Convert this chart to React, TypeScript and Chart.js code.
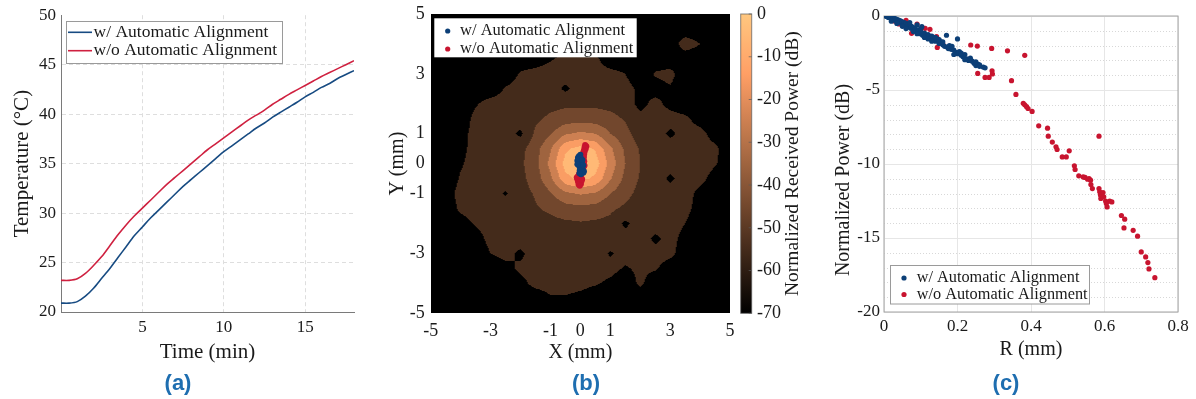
import React, { useEffect, useRef } from "react";
import { Chart, registerables } from "chart.js";

Chart.register(...registerables);

const SERIF = "'Liberation Serif', 'Times New Roman', serif";
const SANS = "'Liberation Sans', Arial, sans-serif";
const TEXT = "#1a1a1a";
const BLUE = "#0c3f77";
const RED = "#c8142f";
const LINE_BLUE = "#174b82";
const LINE_RED = "#cf2140";

const SERIES_LABELS = ["w/ Automatic Alignment", "w/o Automatic Alignment"];

// ---------- (a) temperature ----------
const TIME_MIN = [0, 0.5, 1, 1.5, 2, 2.5, 3, 3.5, 4, 4.5, 5, 5.5, 6, 6.5, 7, 7.5, 8, 8.5, 9, 9.5, 10, 10.5, 11, 11.5, 12, 12.5, 13, 13.5, 14, 14.5, 15, 15.5, 16, 16.5, 17, 17.5, 18];
const TEMP_WITH = [20.9, 20.9, 21.05, 21.6, 22.4, 23.4, 24.4, 25.5, 26.6, 27.7, 28.6, 29.5, 30.3, 31.1, 31.9, 32.7, 33.4, 34.1, 34.8, 35.5, 36.2, 36.8, 37.4, 38.0, 38.6, 39.1, 39.7, 40.2, 40.7, 41.2, 41.75, 42.2, 42.7, 43.1, 43.6, 44.0, 44.4];
const TEMP_WITHOUT = [23.2, 23.2, 23.35, 23.9, 24.7, 25.6, 26.7, 27.8, 28.8, 29.7, 30.5, 31.3, 32.1, 32.9, 33.6, 34.3, 35.0, 35.7, 36.4, 37.0, 37.6, 38.2, 38.8, 39.4, 39.9, 40.4, 41.0, 41.5, 42.0, 42.45, 42.9, 43.35, 43.8, 44.2, 44.6, 45.0, 45.4];
const TEMP_TICKS = [20, 25, 30, 35, 40, 45, 50];
const TIME_TICKS = [5, 10, 15];

// ---------- (b) received power map ----------
const GRID_X = [-5, -4.5, -4, -3.5, -3, -2.5, -2, -1.5, -1, -0.5, 0, 0.5, 1, 1.5, 2, 2.5, 3, 3.5, 4, 4.5, 5];
const GRID_Y = [5, 4.5, 4, 3.5, 3, 2.5, 2, 1.5, 1, 0.5, 0, -0.5, -1, -1.5, -2, -2.5, -3, -3.5, -4, -4.5, -5];
const POWER_MAP = [
  [-66, -66, -66, -66, -66, -66, -66, -66, -66, -66, -66, -66, -66, -66, -66, -66, -66, -66, -66, -66, -66],
  [-66, -66, -66, -66, -66, -66, -66, -66, -66, -66, -66, -66, -66, -66, -66, -66, -66, -66, -66, -66, -66],
  [-66, -66, -66, -66, -66, -66, -66, -66, -66, -66, -66, -66, -66, -66, -66, -66, -66, -55, -60, -66, -66],
  [-66, -66, -66, -66, -66, -66, -66, -66, -61, -57, -56, -58, -66, -66, -66, -66, -66, -66, -66, -66, -66],
  [-66, -66, -66, -66, -66, -66, -59, -56, -55, -55, -55, -56, -57, -60, -66, -59, -57, -66, -66, -66, -66],
  [-66, -66, -66, -66, -66, -59, -56, -55, -55, -62, -55, -55, -56, -57, -62, -64, -61, -66, -66, -66, -66],
  [-66, -66, -66, -61, -56, -56, -55, -54, -53, -52, -52, -52, -53, -55, -63, -57, -63, -66, -66, -66, -66],
  [-66, -66, -66, -57, -56, -56, -55, -52, -48, -45, -44, -45, -47, -51, -57, -56, -56, -58, -64, -66, -66],
  [-66, -66, -64, -56, -55, -56, -62, -48, -41, -31, -28, -30, -40, -47, -55, -55, -62, -56, -57, -64, -66],
  [-66, -66, -63, -56, -55, -55, -53, -44, -31, -12, -6, -11, -28, -42, -51, -54, -55, -55, -56, -58, -66],
  [-66, -66, -61, -56, -55, -55, -52, -43, -27, -6, -2, -5, -24, -40, -50, -54, -55, -55, -55, -59, -66],
  [-66, -66, -59, -56, -55, -55, -53, -45, -32, -13, -7, -12, -29, -43, -51, -54, -62, -55, -57, -64, -66],
  [-66, -64, -57, -56, -55, -61, -54, -49, -41, -32, -29, -31, -40, -47, -53, -55, -55, -56, -63, -66, -66],
  [-66, -66, -58, -56, -56, -55, -54, -51, -48, -44, -43, -44, -48, -52, -55, -55, -56, -57, -64, -66, -66],
  [-66, -66, -64, -59, -56, -55, -55, -54, -53, -52, -51, -52, -53, -62, -55, -55, -56, -60, -66, -66, -66],
  [-66, -66, -66, -64, -57, -56, -55, -55, -55, -54, -54, -55, -55, -56, -55, -62, -57, -63, -66, -66, -66],
  [-66, -66, -66, -66, -60, -57, -62, -55, -55, -55, -55, -55, -61, -56, -56, -57, -58, -64, -66, -66, -66],
  [-66, -66, -66, -66, -66, -63, -58, -56, -55, -55, -56, -56, -57, -61, -58, -59, -64, -66, -66, -66, -66],
  [-66, -66, -66, -66, -66, -66, -63, -57, -56, -56, -57, -59, -62, -66, -58, -66, -66, -66, -66, -66, -66],
  [-66, -66, -66, -66, -66, -66, -66, -66, -61, -61, -63, -66, -66, -66, -66, -66, -66, -66, -66, -66, -66],
  [-66, -66, -66, -66, -66, -66, -66, -66, -66, -66, -66, -66, -66, -66, -66, -66, -66, -66, -66, -66, -66],
];
const CONTOUR_LEVELS = [-70, -60, -50, -40, -30, -20, -10, 0];
const XY_TICKS = [-5, -3, -1, 0, 1, 3, 5];
const CB_TICKS = [-70, -60, -50, -40, -30, -20, -10, 0];
const POS_WITH_X = [-0.05, 0.0, -0.08, 0.02, -0.1, 0.0, 0.05, -0.06, 0.03, -0.04, 0.06, 0.0, 0.08, -0.02, 0.05, 0.1, 0.02, -0.07, 0.07, 0.1, -0.1, 0.12, -0.03];
const POS_WITH_Y = [0.25, 0.3, 0.2, 0.18, 0.1, 0.1, 0.05, 0.02, -0.02, -0.08, -0.1, -0.15, -0.2, -0.22, -0.28, -0.3, -0.35, 0.14, 0.12, -0.05, -0.02, -0.25, -0.32];
const POS_WITHOUT_X = [0.16, 0.2, 0.14, 0.18, 0.12, 0.15, 0.1, 0.13, 0.09, 0.12, 0.1, 0.13, 0.11, 0.14, 0.1, 0.06, 0.03, -0.04, 0.0, -0.08, -0.05, 0.03, -0.1, -0.02, 0.04, -0.08, -0.03, 0.02, -0.06, -0.02, -0.12, 0.06];
const POS_WITHOUT_Y = [0.62, 0.58, 0.55, 0.5, 0.45, 0.42, 0.38, 0.32, 0.28, 0.22, 0.15, 0.08, 0.0, -0.06, -0.14, -0.22, -0.3, -0.34, -0.4, -0.42, -0.48, -0.47, -0.52, -0.55, -0.58, -0.6, -0.64, -0.68, -0.7, -0.74, -0.46, -0.52];

// ---------- (c) normalized power vs radius ----------
const R_WITH = [0.005, 0.01, 0.012, 0.015, 0.018, 0.02, 0.022, 0.025, 0.028, 0.03, 0.032, 0.035, 0.038, 0.04, 0.042, 0.045, 0.048, 0.05, 0.053, 0.055, 0.058, 0.06, 0.063, 0.065, 0.068, 0.07, 0.073, 0.075, 0.078, 0.08, 0.083, 0.085, 0.088, 0.09, 0.092, 0.095, 0.098, 0.1, 0.103, 0.105, 0.11, 0.115, 0.12, 0.125, 0.13, 0.135, 0.14, 0.145, 0.15, 0.155, 0.16, 0.165, 0.17, 0.172, 0.178, 0.183, 0.19, 0.195, 0.2, 0.2, 0.205, 0.21, 0.215, 0.22, 0.225, 0.23, 0.24, 0.245, 0.25, 0.255, 0.26, 0.27, 0.275,
  0.02, 0.035, 0.05, 0.06, 0.07, 0.08, 0.09, 0.1, 0.11, 0.12, 0.13, 0.14, 0.15, 0.16, 0.175, 0.185, 0.19, 0.21, 0.22, 0.235, 0.25, 0.26];
const P_WITH = [-0.02, -0.05, -0.1, -0.03, -0.15, -0.08, -0.2, -0.12, -0.25, -0.18, -0.3, -0.22, -0.35, -0.28, -0.42, -0.33, -0.5, -0.4, -0.55, -0.45, -0.62, -0.5, -0.7, -0.58, -0.75, -0.65, -0.82, -0.7, -0.9, -0.78, -0.95, -0.85, -1.02, -0.6, -1.1, -0.95, -1.2, -1.05, -0.72, -1.3, -1.15, -1.4, -1.25, -1.5, -1.35, -1.62, -1.7, -1.55, -1.85, -1.75, -1.95, -2.05, -1.3, -2.1, -2.0, -2.25, -2.3, -2.45, -1.55, -2.55, -2.4, -2.65, -2.75, -2.6, -2.9, -3.0, -3.05, -3.2, -3.35, -3.25, -3.4, -3.45, -3.5,
  -0.35, -0.5, -0.7, -0.85, -0.45, -1.05, -1.2, -0.85, -1.45, -1.55, -1.7, -1.45, -1.6, -1.75, -2.2, -2.05, -2.6, -2.5, -2.95, -2.85, -3.1, -3.3];
const R_WITHOUT = [0.03, 0.04, 0.06, 0.075, 0.09, 0.112, 0.125, 0.143, 0.145, 0.16, 0.198, 0.216, 0.23, 0.236, 0.254, 0.293, 0.336, 0.383, 0.255, 0.275, 0.286, 0.294, 0.295, 0.347, 0.359, 0.379, 0.383, 0.388, 0.392, 0.403, 0.421, 0.445, 0.447, 0.458, 0.468, 0.471, 0.485, 0.496, 0.504, 0.518, 0.52, 0.53, 0.542, 0.547, 0.554, 0.558, 0.562, 0.563, 0.567, 0.585, 0.585, 0.587, 0.589, 0.59, 0.596, 0.598, 0.603, 0.605, 0.607, 0.614, 0.62, 0.646, 0.655, 0.653, 0.678, 0.69, 0.7, 0.712, 0.718, 0.721, 0.737];
const P_WITHOUT = [-0.35, -0.54, -0.3, -1.17, -0.54, -0.83, -0.9, -1.4, -2.12, -1.9, -2.52, -2.64, -2.93, -1.96, -2.03, -2.19, -2.35, -2.66, -3.88, -4.15, -4.15, -3.7, -3.92, -4.37, -5.3, -5.9, -6.0, -6.13, -6.25, -6.45, -7.42, -7.58, -8.12, -8.52, -8.84, -9.02, -9.52, -9.52, -9.11, -10.12, -10.37, -10.8, -10.87, -10.91, -11.03, -10.98, -11.09, -11.39, -11.66, -8.12, -11.66, -11.88, -12.1, -12.33, -11.93, -12.22, -12.5, -12.67, -12.9, -12.51, -12.56, -13.48, -13.73, -14.32, -14.48, -14.88, -15.94, -16.28, -16.66, -17.09, -17.68];
const MINOR_P_TICKS = [-19, -18, -17, -16, -14, -13, -12, -11, -9, -8, -7, -6, -4, -3, -2, -1];

// ---------- helpers ----------
const copper = (t: number) => [Math.min(255, 255 * 1.25 * t), 255 * 0.7812 * t, 255 * 0.4975 * t];
const NB = CONTOUR_LEVELS.length - 1;
const BAND_RGB = CONTOUR_LEVELS.slice(0, -1).map((_, k) => (k === 0 ? [0, 0, 0] : copper((k + 0.5) / NB)));

function samplePower(x: number, y: number) {
  const n = GRID_X.length - 1;
  const m = GRID_Y.length - 1;
  const fx = (x - GRID_X[0]) / (GRID_X[1] - GRID_X[0]);
  const fy = (y - GRID_Y[0]) / (GRID_Y[1] - GRID_Y[0]);
  const cx = Math.max(0, Math.min(n - 1e-9, fx));
  const cy = Math.max(0, Math.min(m - 1e-9, fy));
  const i = Math.floor(cx);
  const j = Math.floor(cy);
  const tx = cx - i;
  const ty = cy - j;
  const r0 = POWER_MAP[j];
  const r1 = POWER_MAP[j + 1];
  return (r0[i] * (1 - tx) + r0[i + 1] * tx) * (1 - ty) + (r1[i] * (1 - tx) + r1[i + 1] * tx) * ty;
}

function bandOf(v: number) {
  for (let k = NB - 1; k >= 0; k--) if (v >= CONTOUR_LEVELS[k]) return k;
  return 0;
}

const font = (size: number, family = SERIF) => ({ family, size });
const setTicks = (vals: number[]) => (axis: any) => {
  axis.ticks = vals.map((v) => ({ value: v }));
};

// ---------- plugins ----------
const legendA = {
  id: "legendA",
  afterDraw(chart: any) {
    const ctx = chart.ctx;
    ctx.save();
    ctx.fillStyle = "#fff";
    ctx.strokeStyle = "#9a9a9a";
    ctx.lineWidth = 1;
    ctx.fillRect(66.5, 21.5, 216, 42);
    ctx.strokeRect(66.5, 21.5, 216, 42);
    ctx.font = `17.5px ${SERIF}`;
    ctx.textBaseline = "middle";
    ctx.fillStyle = TEXT;
    [
      { c: LINE_BLUE, y: 32.3, t: SERIES_LABELS[0] },
      { c: LINE_RED, y: 50.7, t: SERIES_LABELS[1] },
    ].forEach((r) => {
      ctx.strokeStyle = r.c;
      ctx.lineWidth = 1.6;
      ctx.beginPath();
      ctx.moveTo(68, r.y);
      ctx.lineTo(92, r.y);
      ctx.stroke();
      ctx.fillText(r.t, 93.5, r.y);
    });
    ctx.restore();
  },
};

const contourPlugin = {
  id: "contour",
  beforeDatasetsDraw(chart: any) {
    const { ctx, chartArea: a, scales } = chart;
    const xs = scales.x;
    const ys = scales.y;
    const w = Math.round(a.right - a.left);
    const h = Math.round(a.bottom - a.top);
    const off = document.createElement("canvas");
    off.width = w;
    off.height = h;
    const octx = off.getContext("2d")!;
    const img = octx.createImageData(w, h);
    for (let py = 0; py < h; py++) {
      const vy = ys.getValueForPixel(a.top + py + 0.5);
      for (let px = 0; px < w; px++) {
        const vx = xs.getValueForPixel(a.left + px + 0.5);
        const c = BAND_RGB[bandOf(samplePower(vx, vy))];
        const o = (py * w + px) * 4;
        img.data[o] = c[0];
        img.data[o + 1] = c[1];
        img.data[o + 2] = c[2];
        img.data[o + 3] = 255;
      }
    }
    octx.putImageData(img, 0, 0);
    ctx.drawImage(off, a.left, a.top);
  },
};

const colorbarPlugin = {
  id: "colorbar",
  afterDraw(chart: any) {
    const { ctx, chartArea: a, scales } = chart;
    const cb = scales.cb;
    const x0 = a.right + 10.7;
    const bw = 11;
    const top = cb.getPixelForValue(0);
    const bottom = cb.getPixelForValue(-70);
    const g = ctx.createLinearGradient(0, bottom, 0, top);
    for (let s = 0; s <= 20; s++) {
      const c = copper(s / 20);
      g.addColorStop(s / 20, `rgb(${c[0]},${c[1]},${c[2]})`);
    }
    ctx.save();
    ctx.fillStyle = g;
    ctx.fillRect(x0, top, bw, bottom - top);
    ctx.strokeStyle = "rgba(90,90,90,0.7)";
    ctx.lineWidth = 1;
    ctx.strokeRect(x0, top, bw, bottom - top);
    CB_TICKS.forEach((v) => {
      const y = cb.getPixelForValue(v);
      ctx.beginPath();
      ctx.moveTo(x0 + bw - 3, y);
      ctx.lineTo(x0 + bw, y);
      ctx.stroke();
    });
    ctx.fillStyle = TEXT;
    ctx.font = `19.5px ${SERIF}`;
    ctx.textAlign = "center";
    ctx.textBaseline = "middle";
    ctx.translate(413, (top + bottom) / 2);
    ctx.rotate(-Math.PI / 2);
    ctx.fillText("Normalized Received Power (dB)", 0, 0);
    ctx.restore();
  },
};

const legendB = {
  id: "legendB",
  afterDatasetsDraw(chart: any) {
    const ctx = chart.ctx;
    ctx.save();
    ctx.fillStyle = "#fff";
    ctx.fillRect(54.3, 18.3, 202.4, 39);
    ctx.font = `16.5px ${SERIF}`;
    ctx.textBaseline = "middle";
    [
      { c: BLUE, y: 31, t: SERIES_LABELS[0] },
      { c: RED, y: 49, t: SERIES_LABELS[1] },
    ].forEach((r) => {
      ctx.fillStyle = r.c;
      ctx.beginPath();
      ctx.arc(67.7, r.y, 2.6, 0, Math.PI * 2);
      ctx.fill();
      ctx.fillStyle = TEXT;
      ctx.fillText(r.t, 80, r.y);
    });
    ctx.restore();
  },
};

const boxC = {
  id: "boxC",
  beforeDatasetsDraw(chart: any) {
    const { ctx, chartArea: a, scales } = chart;
    ctx.save();
    ctx.strokeStyle = "#d8d8d8";
    ctx.lineWidth = 1;
    ctx.setLineDash([1, 2]);
    MINOR_P_TICKS.forEach((v) => {
      const y = Math.round(scales.y.getPixelForValue(v)) + 0.5;
      ctx.beginPath();
      ctx.moveTo(a.left, y);
      ctx.lineTo(a.right, y);
      ctx.stroke();
    });
    ctx.setLineDash([]);
    ctx.strokeStyle = "#a3a3a3";
    ctx.strokeRect(a.left, a.top, a.right - a.left, a.bottom - a.top);
    ctx.fillStyle = TEXT;
    ctx.font = `20px ${SERIF}`;
    ctx.textAlign = "center";
    ctx.textBaseline = "middle";
    ctx.translate(23.3, 180);
    ctx.rotate(-Math.PI / 2);
    ctx.fillText("Normalized Power (dB)", 0, 0);
    ctx.restore();
  },
};

const legendC = {
  id: "legendC",
  afterDatasetsDraw(chart: any) {
    const ctx = chart.ctx;
    ctx.save();
    ctx.fillStyle = "#fff";
    ctx.strokeStyle = "#9a9a9a";
    ctx.lineWidth = 1;
    ctx.fillRect(70.5, 265.5, 199, 38.5);
    ctx.strokeRect(70.5, 265.5, 199, 38.5);
    ctx.font = `16.3px ${SERIF}`;
    ctx.textBaseline = "middle";
    [
      { c: BLUE, y: 278, t: SERIES_LABELS[0] },
      { c: RED, y: 294.5, t: SERIES_LABELS[1] },
    ].forEach((r) => {
      ctx.fillStyle = r.c;
      ctx.beginPath();
      ctx.arc(84, r.y, 2.6, 0, Math.PI * 2);
      ctx.fill();
      ctx.fillStyle = TEXT;
      ctx.fillText(r.t, 96.7, r.y);
    });
    ctx.restore();
  },
};

const baseOptions = {
  animation: false,
  responsive: false,
  devicePixelRatio: 1,
  events: [],
};

// ---------- configs ----------
const configA = (): any => ({
  type: "line",
  data: {
    datasets: [
      { label: SERIES_LABELS[0], data: TIME_MIN.map((t, i) => ({ x: t, y: TEMP_WITH[i] })), borderColor: LINE_BLUE, borderWidth: 1.6, pointRadius: 0, tension: 0.3 },
      { label: SERIES_LABELS[1], data: TIME_MIN.map((t, i) => ({ x: t, y: TEMP_WITHOUT[i] })), borderColor: LINE_RED, borderWidth: 1.6, pointRadius: 0, tension: 0.3 },
    ],
  },
  options: {
    ...baseOptions,
    layout: { padding: { top: 15, right: 18, left: 0, bottom: 0 } },
    plugins: { legend: { display: false }, tooltip: { enabled: false } },
    scales: {
      x: {
        type: "linear", min: 0, max: 18,
        afterBuildTicks: setTicks(TIME_TICKS),
        afterFit: (s: any) => { s.height = 60; },
        ticks: { font: font(17), color: TEXT, padding: 5, maxRotation: 0, autoSkip: false },
        grid: { color: "#dedede", drawTicks: false },
        border: { color: "#7a7a7a", dash: [4, 3] },
        title: { display: true, text: "Time (min)", font: font(21), color: TEXT, padding: { top: 0, bottom: 7 } },
      },
      y: {
        type: "linear", min: 20, max: 50,
        afterBuildTicks: setTicks(TEMP_TICKS),
        afterFit: (s: any) => { s.width = 61; },
        ticks: { font: font(17), color: TEXT, padding: 5, autoSkip: false },
        grid: { color: (c: any) => (c.tick && (c.tick.value === 50 || c.tick.value === 20) ? "rgba(0,0,0,0)" : "#dedede"), drawTicks: false },
        border: { color: "#7a7a7a", dash: [4, 3] },
        title: { display: true, text: "Temperature (°C)", font: font(21), color: TEXT, padding: { top: 10, bottom: 0 } },
      },
    },
  },
  plugins: [legendA],
});

const configB = (): any => ({
  type: "scatter",
  data: {
    datasets: [
      { label: SERIES_LABELS[0], data: POS_WITH_X.map((x, i) => ({ x, y: POS_WITH_Y[i] })), backgroundColor: BLUE, borderWidth: 0, pointRadius: 3 },
      { label: SERIES_LABELS[1], data: POS_WITHOUT_X.map((x, i) => ({ x, y: POS_WITHOUT_Y[i] })), backgroundColor: RED, borderWidth: 0, pointRadius: 3 },
    ],
  },
  options: {
    ...baseOptions,
    layout: { padding: { top: 14, right: 0, left: 0, bottom: 0 } },
    plugins: { legend: { display: false }, tooltip: { enabled: false } },
    scales: {
      x: {
        type: "linear", min: -5, max: 5,
        afterBuildTicks: setTicks(XY_TICKS),
        afterFit: (s: any) => { s.height = 58.7; },
        ticks: { font: font(18), color: TEXT, padding: 7, autoSkip: false, maxRotation: 0 },
        grid: { display: false, drawTicks: false },
        border: { display: false },
        title: { display: true, text: "X (mm)", font: font(20), color: TEXT, padding: { top: 0, bottom: 7 } },
      },
      y: {
        type: "linear", min: -5, max: 5,
        afterBuildTicks: setTicks(XY_TICKS),
        afterFit: (s: any) => { s.width = 50.7; },
        ticks: { font: font(18), color: TEXT, padding: 2, autoSkip: false },
        grid: { display: false, drawTicks: true, tickLength: 4 },
        border: { display: false },
        title: { display: true, text: "Y (mm)", font: font(20), color: TEXT, padding: { top: 6, bottom: 0 } },
      },
      cb: {
        type: "linear", position: "right", min: -70, max: 0,
        afterBuildTicks: setTicks(CB_TICKS),
        afterFit: (s: any) => { s.width = 80; },
        ticks: { font: font(18), color: TEXT, padding: 2, autoSkip: false },
        grid: { display: false, drawTicks: true, tickLength: 25 },
        border: { display: false },
      },
    },
  },
  plugins: [contourPlugin, colorbarPlugin, legendB],
});

const configC = (): any => ({
  type: "scatter",
  data: {
    datasets: [
      { label: SERIES_LABELS[0], data: R_WITH.map((x, i) => ({ x, y: P_WITH[i] })), backgroundColor: BLUE, borderWidth: 0, pointRadius: 2.6 },
      { label: SERIES_LABELS[1], data: R_WITHOUT.map((x, i) => ({ x, y: P_WITHOUT[i] })), backgroundColor: RED, borderWidth: 0, pointRadius: 2.6 },
    ],
  },
  options: {
    ...baseOptions,
    layout: { padding: { top: 16, right: 18, left: 0, bottom: 0 } },
    plugins: { legend: { display: false }, tooltip: { enabled: false } },
    scales: {
      x: {
        type: "linear", min: 0, max: 0.8,
        afterFit: (s: any) => { s.height = 60; },
        ticks: { stepSize: 0.2, font: font(17), color: TEXT, padding: 4, maxRotation: 0 },
        grid: { color: "#e6e6e6", drawTicks: false },
        border: { display: false },
        title: { display: true, text: "R (mm)", font: font(20), color: TEXT, padding: { top: 0, bottom: 10 } },
      },
      y: {
        type: "linear", min: -20, max: 0,
        afterFit: (s: any) => { s.width = 64; },
        ticks: { stepSize: 5, font: font(17), color: TEXT, padding: 4 },
        grid: { color: "#e6e6e6", drawTicks: false },
        border: { display: false },
        title: { display: false },
      },
    },
  },
  plugins: [boxC, legendC],
});

function ChartBox({ left, width, height, config }: { left: number; width: number; height: number; config: () => any }) {
  const ref = useRef<HTMLCanvasElement>(null);
  useEffect(() => {
    const chart = new Chart(ref.current as HTMLCanvasElement, config());
    return () => chart.destroy();
  }, []);
  return <canvas ref={ref} width={width} height={height} style={{ position: "absolute", left, top: 0, width, height }} />;
}

const PANEL_TAGS = [
  { text: "(a)", x: 178 },
  { text: "(b)", x: 586 },
  { text: "(c)", x: 1006 },
];

export default function App() {
  return (
    <div style={{ position: "absolute", left: 0, top: 0, width: 1196, height: 399, background: "#fff", overflow: "hidden" }}>
      <ChartBox left={0} width={372} height={372} config={configA} />
      <ChartBox left={380} width={430} height={372} config={configB} />
      <ChartBox left={820} width={376} height={372} config={configC} />
      {PANEL_TAGS.map((p) => (
        <div
          key={p.text}
          style={{
            position: "absolute",
            left: p.x,
            top: 371,
            transform: "translateX(-50%)",
            font: `bold 22px ${SANS}`,
            lineHeight: "24px",
            color: "#1e6eb0",
            whiteSpace: "nowrap",
          }}
        >
          {p.text}
        </div>
      ))}
    </div>
  );
}
